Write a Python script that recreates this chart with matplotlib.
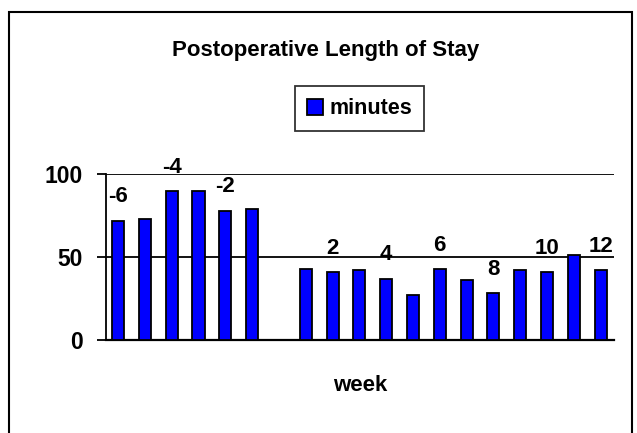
import matplotlib.pyplot as plt
from matplotlib.patches import Rectangle

plt.rcParams['font.family'] = ['Liberation Sans', 'DejaVu Sans']
plt.rcParams['font.weight'] = 'bold'

# weeks before and after (week 0 has no bar)
weeks = [-6, -5, -4, -3, -2, -1, 0, 1, 2, 3, 4, 5, 6, 7, 8, 9, 10, 11, 12]
minutes = [72, 73, 90, 90, 78, 79, None,
           43, 41, 42, 37, 27, 43, 36, 28, 42, 41, 51, 42]
labelled = [-6, -4, -2, 2, 4, 6, 8, 10, 12]

fig = plt.figure(figsize=(6.37, 4.33), dpi=100)
ax = fig.add_axes([0.1664, 0.215, 0.7976, 0.383])

xs = [i for i, v in enumerate(minutes) if v is not None]
vals = [v for v in minutes if v is not None]
ax.bar(xs, vals, width=0.45, color='#0000ff', edgecolor='black', linewidth=1.3,
       label='minutes', zorder=3)

for i, w in enumerate(weeks):
    if w in labelled:
        ax.annotate(str(w), (i, minutes[i]), xytext=(0, 13), textcoords='offset points',
                    ha='center', va='baseline', fontsize=16, fontweight='bold',
                    annotation_clip=False)

ax.set_xlim(-0.45, len(weeks) - 0.5)
ax.set_ylim(0, 100)
ax.set_yticks([0, 50, 100])
ax.yaxis.grid(True, color='black', linewidth=1.3, zorder=0)
ax.set_xticks([])
ax.tick_params(axis='y', length=6.5, width=1.3, labelsize=16.5, pad=10)
for lab in ax.get_yticklabels():
    lab.set_fontweight('bold')
for s in ['top', 'right']:
    ax.spines[s].set_visible(False)
ax.spines['left'].set_linewidth(1.3)
ax.spines['bottom'].set_linewidth(1.6)

ax.set_xlabel('week', fontsize=16, fontweight='bold', labelpad=25)

fig.text(0.511, 0.884, 'Postoperative Length of Stay', ha='center', va='center',
         fontsize=16, fontweight='bold')

leg = fig.legend(loc='center', bbox_to_anchor=(0.565, 0.749), frameon=True, fancybox=False,
                 edgecolor='black', handlelength=0.75, handleheight=0.75, handletextpad=0.3,
                 borderpad=0.55, borderaxespad=0, prop={'weight': 'bold', 'size': 15.5})
leg.get_frame().set_linewidth(1.3)

fig.patches.append(Rectangle((0.014, -0.05), 0.978, 1.022, transform=fig.transFigure,
                             fill=False, edgecolor='black', linewidth=1.5))

fig.savefig('out.png')
